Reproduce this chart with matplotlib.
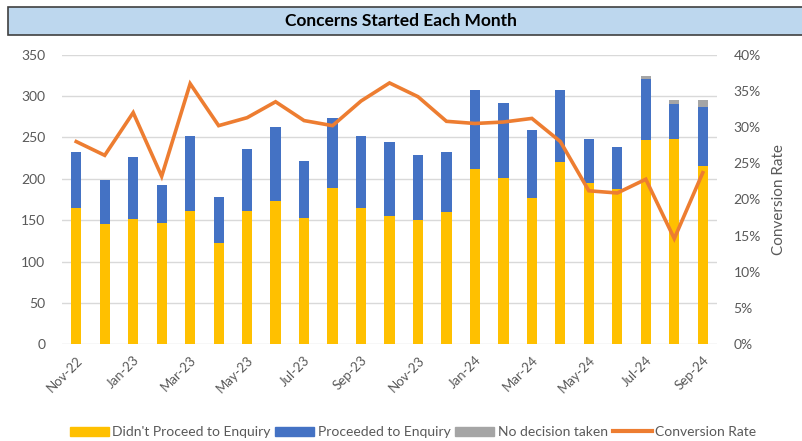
import matplotlib.pyplot as plt
from matplotlib.patches import Rectangle, Patch
from matplotlib.lines import Line2D
from matplotlib.ticker import PercentFormatter
import numpy as np

## Data
months = ["Nov-22", "Dec-22", "Jan-23", "Feb-23", "Mar-23", "Apr-23", "May-23", "Jun-23",
          "Jul-23", "Aug-23", "Sep-23", "Oct-23", "Nov-23", "Dec-23", "Jan-24", "Feb-24",
          "Mar-24", "Apr-24", "May-24", "Jun-24", "Jul-24", "Aug-24", "Sep-24"]
didnt_proceed = [165, 145, 151, 146, 161, 122, 161, 173, 153, 189, 165, 155,
                 150, 160, 212, 201, 177, 220, 195, 188, 247, 248, 216]
proceeded = [67, 54, 75, 47, 91, 56, 75, 90, 69, 85, 87, 90,
             79, 73, 95, 91, 82, 87, 53, 51, 74, 43, 71]
no_decision = [0, 0, 0, 0, 0, 0, 0, 0, 0, 0, 0, 0,
               0, 0, 0, 0, 0, 0, 0, 0, 3, 4, 8]
conversion = [28.0, 26.1, 32.0, 23.2, 36.0, 30.2, 31.3, 33.5, 30.9, 30.2, 33.6, 36.1,
              34.2, 30.8, 30.5, 30.7, 31.2, 28.0, 21.2, 20.9, 22.8, 14.6, 23.7]

## Style
YELLOW = "#FFC000"
BLUE = "#4472C4"
GREY = "#A5A5A5"
ORANGE = "#ED7D31"
TXT = "#595959"
plt.rcParams['font.family'] = ['Lato', 'DejaVu Sans']

fig = plt.figure(figsize=(8.02, 4.41), dpi=100)
ax = fig.add_axes([62/802, 1 - 344.3/441, (717-62)/802, (344.3-54.7)/441])
ax2 = ax.twinx()

x = np.arange(len(months))
w = 0.36
bottom2 = np.array(didnt_proceed) + np.array(proceeded)
ax.bar(x, didnt_proceed, w, color=YELLOW, zorder=2)
ax.bar(x, proceeded, w, bottom=didnt_proceed, color=BLUE, zorder=2)
ax.bar(x, no_decision, w, bottom=bottom2, color=GREY, zorder=2)
ax2.plot(x, conversion, color=ORANGE, lw=2.6, solid_joinstyle='miter', zorder=3)

ax.set_xlim(-0.5, len(months) - 0.5)
ax.set_ylim(0, 350)
ax.set_yticks(range(0, 351, 50))
ax2.set_ylim(0, 40)
ax2.set_yticks(range(0, 41, 5))
ax2.yaxis.set_major_formatter(PercentFormatter(decimals=0))

ax.grid(axis='y', color="#D9D9D9", lw=1, zorder=0)
ax.set_axisbelow(True)
for a in (ax, ax2):
    for s in a.spines.values():
        s.set_visible(False)
    a.tick_params(length=0, colors=TXT, labelsize=10)
ax.tick_params(axis='y', pad=12)
ax2.tick_params(axis='y', pad=12)

ax.set_xticks(x[::2])
ax.set_xticklabels(months[::2], rotation=45, ha='right', rotation_mode='anchor', fontsize=9.5)
ax.tick_params(axis='x', pad=7)

ax2.set_ylabel("Conversion Rate", color=TXT, fontsize=11, labelpad=8)

# title box
fig.patches.append(Rectangle((8/802, 1 - 35/441), 1, 28/441, transform=fig.transFigure,
                             facecolor="#BDD7EE", edgecolor="#404040", lw=1.2, zorder=0))
fig.text(0.5, 1 - 21/441, "Concerns Started Each Month", ha='center', va='center',
         fontsize=12.5, fontweight='bold', color="black")

# legend
handles = [Patch(color=YELLOW), Patch(color=BLUE), Patch(color=GREY),
           Line2D([], [], color=ORANGE, lw=3)]
labels = ["Didn't Proceed to Enquiry", "Proceeded to Enquiry", "No decision taken", "Conversion Rate"]
fig.legend(handles, labels, loc='center', bbox_to_anchor=(0.515, 1 - 432/441), ncol=4,
           frameon=False, fontsize=10, labelcolor=TXT, handlelength=2.8, handleheight=0.6,
           handletextpad=0.25, columnspacing=0.35)

fig.savefig("out.png", dpi=100)
